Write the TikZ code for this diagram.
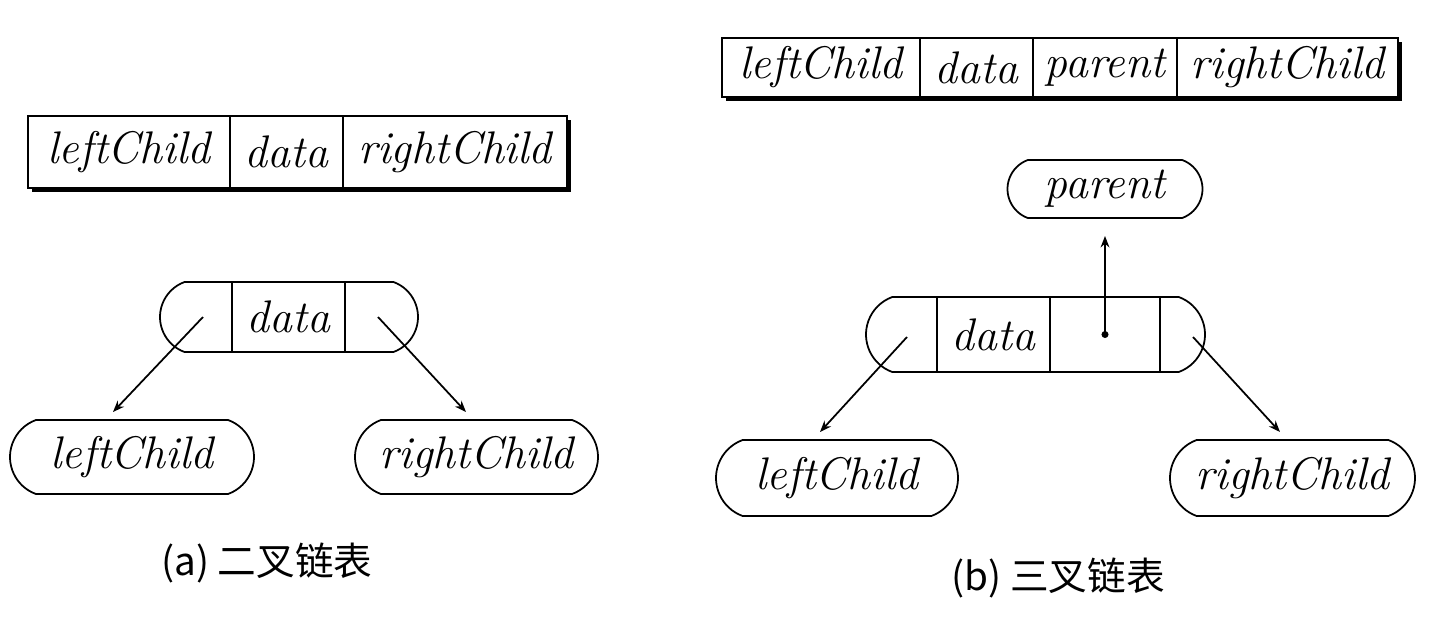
\documentclass[tikz,border=0pt]{standalone}
\usepackage{fontspec}
\newfontfamily\cjkfont{Noto Sans CJK SC}
\usetikzlibrary{shapes.misc,arrows.meta,positioning,shadows}

\begin{document}
\begin{tikzpicture}[line width=1pt,
  cell/.style={rectangle, draw, fill=white, line width=1.2pt, outer sep=0pt, inner sep=0pt,
    font=\fontsize{26}{30}\selectfont\itshape,
    drop shadow={shadow xshift=0.07cm, shadow yshift=-0.07cm, fill=black, opacity=1}},
  field/.style={rectangle, draw, outer sep=0pt, inner sep=0pt, font=\fontsize{26}{30}\selectfont\itshape},
  capsule/.style={rounded rectangle, rounded rectangle arc length=140, draw, outer sep=0pt, inner sep=0pt,
    font=\fontsize{26}{30}\selectfont\itshape},
  caption/.style={font=\cjkfont\fontsize{22}{26}\selectfont},
  arrow/.style={-{Stealth[length=6.5pt,width=5pt]}}]

  \useasboundingbox (0,0) rectangle (28.74,-12.44);

  % (a)
  \node[cell, minimum width=4.04cm, minimum height=1.44cm] (ta1) at (2.58,-3.04) {leftChild};
  \node[cell, minimum width=2.26cm, minimum height=1.44cm, right=0pt of ta1] (ta2) {data};
  \node[cell, minimum width=4.48cm, minimum height=1.44cm, right=0pt of ta2] (ta3) {rightChild};

  \node[capsule, minimum width=5.16cm, minimum height=1.4cm] (na) at (5.78,-6.34) {};
  \node[field, minimum width=2.26cm, minimum height=1.4cm] (naD) at (5.77,-6.34) {data};
  \coordinate (naL) at (4.06,-6.34);
  \coordinate (naR) at (7.56,-6.34);

  \node[capsule, minimum width=4.88cm, minimum height=1.48cm] (lcA) at (2.64,-9.14) {leftChild};
  \node[capsule, minimum width=4.86cm, minimum height=1.48cm] (rcA) at (9.53,-9.14) {rightChild};

  \draw[arrow] (naL) -- ([xshift=-0.38cm,yshift=0.16cm]lcA.north);
  \draw[arrow] (naR) -- ([xshift=-0.21cm,yshift=0.16cm]rcA.north);

  \node[caption] (capA) at (5.34,-11.26) {(a)\ 二叉链表};

  % (b)
  \node[cell, minimum width=3.96cm, minimum height=1.18cm] (tb1) at (16.42,-1.35) {leftChild};
  \node[cell, minimum width=2.26cm, minimum height=1.18cm, right=0pt of tb1] (tb2) {data};
  \node[cell, minimum width=2.88cm, minimum height=1.18cm, right=0pt of tb2] (tb3) {parent};
  \node[cell, minimum width=4.42cm, minimum height=1.18cm, right=0pt of tb3] (tb4) {rightChild};

  \node[capsule, minimum width=3.9cm, minimum height=1.16cm] (pb) at (22.10,-3.78) {parent};

  \node[capsule, minimum width=6.78cm, minimum height=1.5cm] (nb) at (20.71,-6.69) {};
  \node[field, minimum width=2.26cm, minimum height=1.5cm] (nbD) at (19.87,-6.69) {data};
  \node[field, minimum width=2.2cm, minimum height=1.5cm, right=0pt of nbD] (nbP) {};
  \coordinate (nbL) at (18.14,-6.74);
  \coordinate (nbR) at (23.86,-6.74);

  \node[capsule, minimum width=4.84cm, minimum height=1.52cm] (lcB) at (16.74,-9.56) {leftChild};
  \node[capsule, minimum width=4.9cm, minimum height=1.52cm] (rcB) at (25.85,-9.56) {rightChild};

  \fill (nbP.center) circle (2pt);
  \draw[arrow] (nbP.center) -- ([yshift=-0.36cm]pb.south);
  \draw[arrow] (nbL) -- ([xshift=-0.34cm,yshift=0.16cm]lcB.north);
  \draw[arrow] (nbR) -- ([xshift=-0.25cm,yshift=0.16cm]rcB.north);

  \node[caption] (capB) at (21.16,-11.56) {(b)\ 三叉链表};
\end{tikzpicture}
\end{document}
